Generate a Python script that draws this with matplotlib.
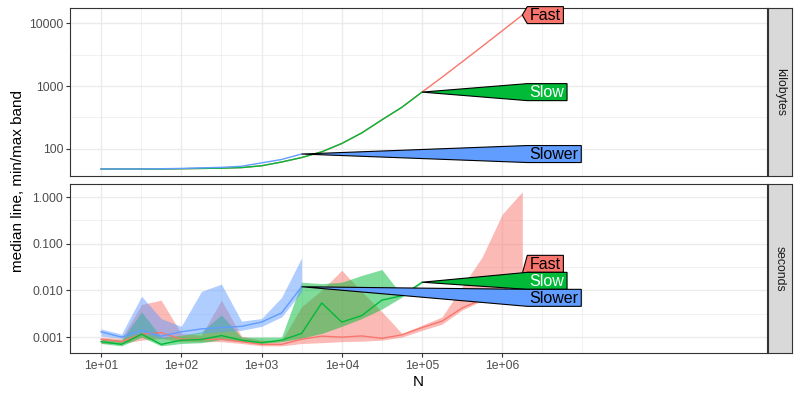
# median time / memory per N, three methods, ggplot-like facets
import matplotlib.pyplot as plt
import numpy as np
from matplotlib.patches import Polygon
from matplotlib.ticker import FixedLocator, FixedFormatter, NullFormatter

plt.rcParams['font.family'] = ['Liberation Sans', 'DejaVu Sans']

# data
N = [10, 18, 32, 56, 100, 178, 316, 562, 1000, 1778, 3162, 5623, 10000,
     17783, 31623, 56234, 100000, 177828, 316228, 562341, 1000000, 1778279]
methods = ['Fast', 'Slow', 'Slower']
colors = ['#F8766D', '#00BA38', '#619CFF']
text_colors = ['black', 'white', 'black']

kb_fast = [48, 48, 48, 48, 48.5, 49, 49.5, 50.5, 54, 62, 73, 90, 122, 180, 290,
           460, 800, 1380, 2420, 4260, 7550, 13400]
kb_slow = [48, 48, 48, 48, 48.5, 49, 49.5, 50.5, 54, 62, 73, 90, 122, 180, 290,
           460, 800]
kb_slower = [48, 48, 48, 48.5, 49, 50, 51, 53, 60, 68, 83]

sec_fast = [0.0009, 0.0008, 0.00116, 0.00125, 0.0009, 0.0009, 0.0009, 0.0008,
            0.0007, 0.0007, 0.0009, 0.00105, 0.001, 0.00106, 0.00094, 0.00112,
            0.0016, 0.0022, 0.0042, 0.0065, 0.0095, 0.023]
sec_fast_lo = [0.00073, 0.00073, 0.00086, 0.00094, 0.0008, 0.0008, 0.0008, 0.00073,
               0.00065, 0.00065, 0.00073, 0.00076, 0.0008, 0.00082, 0.00086, 0.001,
               0.0014, 0.0019, 0.0038, 0.006, 0.009, 0.02]
sec_fast_hi = [0.001, 0.00094, 0.005, 0.0062, 0.0012, 0.0011, 0.0062, 0.00105,
               0.00086, 0.00083, 0.0045, 0.0101, 0.027, 0.0094, 0.0035, 0.0012,
               0.0018, 0.0027, 0.012, 0.052, 0.43, 1.3]

sec_slow = [0.0008, 0.0007, 0.00116, 0.0007, 0.00086, 0.00089, 0.00108, 0.00086,
            0.00076, 0.00086, 0.0012, 0.0054, 0.0021, 0.0029, 0.0062, 0.0077, 0.015]
sec_slow_lo = [0.00073, 0.00065, 0.001, 0.00065, 0.00073, 0.00076, 0.00089, 0.0008,
               0.00073, 0.0008, 0.00095, 0.0012, 0.0017, 0.0025, 0.004, 0.0072, 0.0145]
sec_slow_hi = [0.00094, 0.00086, 0.0035, 0.001, 0.0011, 0.0013, 0.003, 0.001,
               0.001, 0.001, 0.015, 0.014, 0.015, 0.021, 0.028, 0.0079, 0.0155]

sec_slower = [0.0013, 0.001, 0.0014, 0.00105, 0.0013, 0.0015, 0.0016, 0.0017,
              0.0021, 0.0033, 0.012]
sec_slower_lo = [0.00105, 0.00094, 0.0012, 0.00094, 0.0011, 0.0012, 0.0013, 0.0014,
                 0.0017, 0.0027, 0.0094]
sec_slower_hi = [0.0015, 0.00116, 0.0075, 0.0025, 0.0017, 0.0095, 0.0137, 0.0022,
                 0.0025, 0.0071, 0.05]

x_major = [1e1, 1e2, 1e3, 1e4, 1e5, 1e6]
x_labels = ['1e+01', '1e+02', '1e+03', '1e+04', '1e+05', '1e+06']
kb_major = [100, 1000, 10000]
kb_labels = ['100', '1000', '10000']
sec_major = [0.001, 0.01, 0.1, 1.0]
sec_labels = ['0.001', '0.010', '0.100', '1.000']

fig = plt.figure(figsize=(8, 4), dpi=100)
L, R = 70 / 800, 767 / 800
ax_kb = fig.add_axes([L, 1 - 176 / 400, R - L, 168 / 400])
ax_s = fig.add_axes([L, 1 - 353 / 400, R - L, 169 / 400])


def style(ax, ymajor, ylabels, ylim):
    ax.set_xscale('log')
    ax.set_yscale('log')
    ax.set_xlim(10 ** 0.613, 10 ** 9.3)
    ax.set_ylim(*ylim)
    ax.xaxis.set_major_locator(FixedLocator(x_major))
    ax.xaxis.set_major_formatter(FixedFormatter(x_labels))
    xm = np.log10(x_major)
    ax.xaxis.set_minor_locator(FixedLocator(10 ** np.append(xm + 0.5, 7.0)))
    ax.xaxis.set_minor_formatter(NullFormatter())
    ax.yaxis.set_major_locator(FixedLocator(ymajor))
    ax.yaxis.set_major_formatter(FixedFormatter(ylabels))
    ym = np.log10(ymajor)
    ax.yaxis.set_minor_locator(FixedLocator(10 ** np.append(ym - 0.5, ym[-1] + 0.5)))
    ax.yaxis.set_minor_formatter(NullFormatter())
    ax.grid(which='major', color='#EBEBEB', lw=1.0)
    ax.grid(which='minor', color='#EBEBEB', lw=0.5)
    ax.set_axisbelow(True)
    for s in ax.spines.values():
        s.set_color('#333333')
        s.set_linewidth(0.8)
    ax.tick_params(which='major', length=2.75, width=0.8, color='#333333',
                   labelcolor='#4D4D4D', labelsize=8.8, pad=2.2)
    ax.tick_params(which='minor', length=0)


style(ax_kb, kb_major, kb_labels, (10 ** 1.57, 10 ** 4.24))
style(ax_s, sec_major, sec_labels, (10 ** -3.34, 10 ** 0.28))
ax_kb.tick_params(axis='x', which='both', bottom=False, labelbottom=False)

# ribbons then lines
sec_data = [(sec_fast, sec_fast_lo, sec_fast_hi),
            (sec_slow, sec_slow_lo, sec_slow_hi),
            (sec_slower, sec_slower_lo, sec_slower_hi)]
kb_data = [kb_fast, kb_slow, kb_slower]
for (med, lo, hi), c in zip(sec_data, colors):
    ax_s.fill_between(N[:len(lo)], lo, hi, color=c, alpha=0.5, lw=0, zorder=1)
for (med, lo, hi), c in zip(sec_data, colors):
    ax_s.plot(N[:len(med)], med, color=c, lw=1.0, zorder=2)
for med, c in zip(kb_data, colors):
    ax_kb.plot(N[:len(med)], med, color=c, lw=1.0, zorder=2)


def spread(ys, h):
    # keep labels at least h apart, least squares move
    order = np.argsort(-np.asarray(ys))
    t = [ys[o] + i * h for i, o in enumerate(order)]
    blocks = []
    for v in t:
        blocks.append([v, 1])
        while len(blocks) > 1 and blocks[-2][0] / blocks[-2][1] < blocks[-1][0] / blocks[-1][1]:
            s, n = blocks.pop()
            blocks[-1][0] += s
            blocks[-1][1] += n
    z = []
    for s, n in blocks:
        z += [s / n] * n
    out = np.zeros(len(ys))
    for i, o in enumerate(order):
        out[o] = z[i] - i * h
    return out


renderer = fig.canvas.get_renderer()


def add_labels(ax, series):
    td = ax.transData
    tips = [td.transform((N[len(s) - 1], s[-1])) for s in series]
    x_left = td.transform((N[-1], 1))[0] + 5
    texts, widths = [], []
    for m, tc in zip(methods, text_colors):
        t = ax.text(0, 0, m, fontsize=11.5, color=tc, ha='left', va='center',
                    transform=None, zorder=5, clip_on=False)
        bb = t.get_window_extent(renderer)
        texts.append(t)
        widths.append(bb.width)
    h = 17
    cy = spread([p[1] for p in tips], h)
    inv = td.inverted()
    for i, c in enumerate(colors):
        xr = x_left + widths[i] + 5
        top, bot = cy[i] + h / 2, cy[i] - h / 2
        verts = [tips[i], (x_left, top), (xr, top), (xr, bot), (x_left, bot)]
        poly = Polygon(inv.transform(verts), closed=True, facecolor=c,
                       edgecolor='black', lw=0.8, zorder=4, clip_on=False)
        ax.add_patch(poly)
        texts[i].set_position((x_left + 2, cy[i] - 0.5))


add_labels(ax_kb, kb_data)
add_labels(ax_s, [d[0] for d in sec_data])

# facet strips
for ax, name in [(ax_kb, 'kilobytes'), (ax_s, 'seconds')]:
    pos = ax.get_position()
    st = fig.add_axes([768 / 800, pos.y0, 24 / 800, pos.height])
    st.set_facecolor('#D9D9D9')
    st.set_xticks([])
    st.set_yticks([])
    for s in st.spines.values():
        s.set_color('#333333')
        s.set_linewidth(0.8)
    st.text(0.5, 0.5, name, rotation=-90, ha='center', va='center',
            fontsize=8.8, color='#1A1A1A', transform=st.transAxes)

fig.text(18 / 800, 1 - 180.5 / 400, 'median line, min/max band', rotation=90,
         ha='center', va='center', fontsize=11)
fig.text(418 / 800, 1 - 382 / 400, 'N', ha='center', va='center', fontsize=11)

fig.savefig('out.png', dpi=100)
